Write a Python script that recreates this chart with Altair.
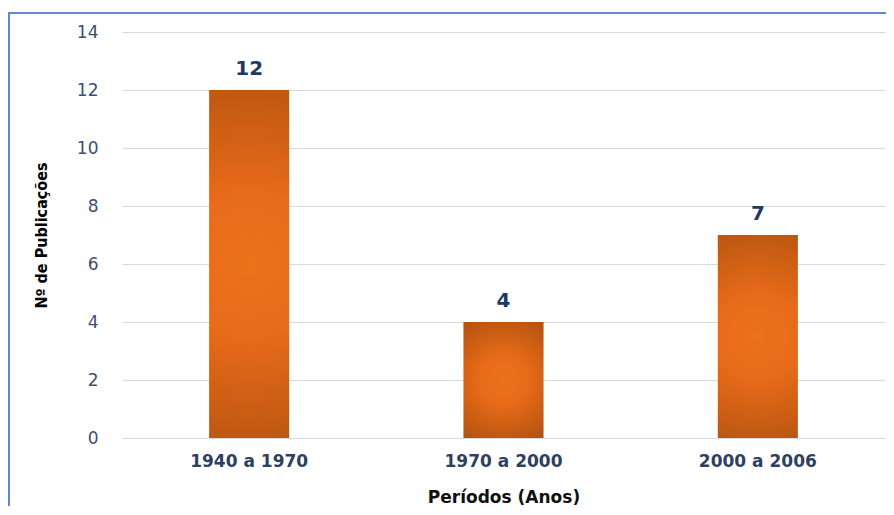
import altair as alt
import pandas as pd

periods = ["1940 a 1970", "1970 a 2000", "2000 a 2006"]
counts = [12, 4, 7]

df = pd.DataFrame({"periodo": periods, "n": counts})

grad = alt.Gradient(
    gradient="radial",
    x1=0.5, y1=0.5, x2=0.5, y2=0.5, r1=0, r2=0.6,
    stops=[
        alt.GradientStop(offset=0, color="#ee711c"),
        alt.GradientStop(offset=0.35, color="#e76b19"),
        alt.GradientStop(offset=1, color="#b2520f"),
    ],
)

base = alt.Chart(df)

bars = base.mark_bar(color=grad).encode(
    x=alt.X("periodo:N", sort=periods,
            scale=alt.Scale(paddingInner=0.685, paddingOuter=0.3425),
            axis=alt.Axis(title="Períodos (Anos)", labelAngle=0, labelFont="DejaVu Sans",
                          labelFontSize=17, labelFontWeight="bold", labelColor="#2f3f5f",
                          labelPadding=15, domain=False, ticks=False,
                          titleFont="DejaVu Sans", titleFontSize=17, titleFontWeight="bold",
                          titleColor="#111111", titlePadding=20)),
    y=alt.Y("n:Q", scale=alt.Scale(domain=[0, 14]),
            axis=alt.Axis(values=[0, 2, 4, 6, 8, 10, 12, 14], title="Nº de Publicações",
                          labelFont="DejaVu Sans", labelFontSize=17, labelColor="#3d4e6e",
                          labelPadding=24, domain=False, ticks=False,
                          gridColor="#d9d9d9", gridWidth=1,
                          titleFont="DejaVu Sans Condensed", titleFontSize=16,
                          titleFontWeight="bold", titleColor="#000000", titlePadding=27)),
)

labels = base.mark_text(dy=-11, baseline="bottom", font="DejaVu Sans", fontSize=20,
                        fontWeight="bold", color="#1f3864").encode(
    x=alt.X("periodo:N", sort=periods),
    y="n:Q",
    text="n:Q",
)

border = alt.Chart(df).mark_rect(fill="transparent", stroke="#5a8ad0", strokeWidth=2).encode(
    x=alt.value(-113), x2=alt.value(800), y=alt.value(-19), y2=alt.value(600)
)

chart = alt.layer(bars, labels, border).properties(
    width=763, height=406,
    autosize=alt.AutoSizeParams(type="none"),
    padding={"left": 114, "top": 24, "right": 1, "bottom": 68},
).configure_view(stroke=None)

chart.save("out.html", embed_options={"renderer": "svg", "actions": False})
